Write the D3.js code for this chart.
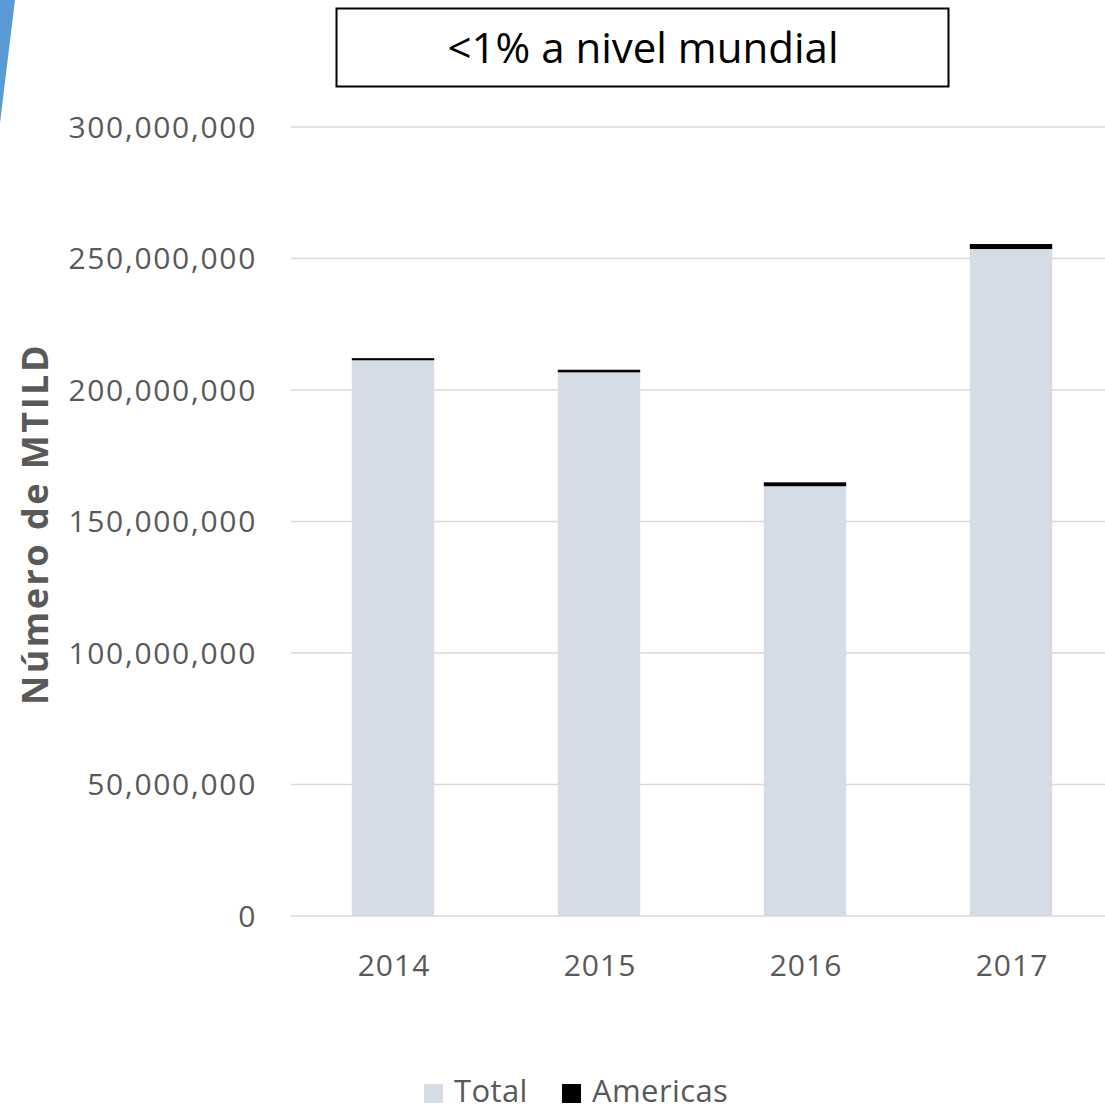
<!DOCTYPE html>
<html><head><meta charset="utf-8">
<script src="https://cdn.jsdelivr.net/npm/d3@7"></script>
<style>body{margin:0;background:#fff}svg{display:block}</style>
</head><body>
<svg id="c" width="1105" height="1111"></svg>
<script>
const categories = ["2014","2015","2016","2017"];
const totalValues = [211300000, 206700000, 163400000, 253600000];
const americasValues = [800000, 1000000, 1500000, 1900000];
const seriesNames = ["Total","Americas"];
const seriesColors = ["#d6dce5","#000000"];
const yTicks = [0,50000000,100000000,150000000,200000000,250000000,300000000];
const titleText = "<1% a nivel mundial";
const yAxisTitle = "Número de MTILD";

const svg = d3.select("#c");
const font = "'Open Sans', sans-serif";
const textColor = "#595959";

// decorative blue shape
svg.append("polygon").attr("points","0,0 15,0 0,123").attr("fill","#5b9bd5");

const x = d3.scaleBand().domain(categories).range([290,1114]).paddingInner(0.6).paddingOuter(0.3);
const y = d3.scaleLinear().domain([0,300000000]).range([916,127]);

// gridlines
svg.append("g").selectAll("line").data(yTicks).join("line")
  .attr("x1",291).attr("x2",1105)
  .attr("y1",d=>y(d)).attr("y2",d=>y(d))
  .attr("stroke","#d9d9d9").attr("stroke-width",1.5);

// y labels
const fmt = d3.format(",");
svg.append("g").selectAll("text").data(yTicks).join("text")
  .attr("x",257).attr("y",d=>y(d)).attr("dy","0.35em")
  .attr("text-anchor","end").attr("font-family",font).attr("font-size",30)
  .attr("letter-spacing",1.7)
  .attr("fill",textColor).text(d=>fmt(d));

// stacked bars
const rows = categories.map((c,i)=>({cat:c, Total:totalValues[i], Americas:americasValues[i]}));
const stack = d3.stack().keys(seriesNames)(rows);
svg.append("g").selectAll("g").data(stack).join("g")
  .attr("fill",(d,i)=>seriesColors[i])
  .selectAll("rect").data(d=>d).join("rect")
  .attr("x",d=>x(d.data.cat)).attr("width",x.bandwidth())
  .attr("y",d=>y(d[1])).attr("height",d=>y(d[0])-y(d[1]));

// x labels
svg.append("g").selectAll("text").data(categories).join("text")
  .attr("x",d=>x(d)+x.bandwidth()/2+1).attr("y",976)
  .attr("text-anchor","middle").attr("font-family",font).attr("font-size",30)
  .attr("letter-spacing",1)
  .attr("fill",textColor).text(d=>d);

// y axis title
svg.append("text").attr("transform","translate(48,524) rotate(-90)")
  .attr("text-anchor","middle").attr("font-family",font).attr("font-weight","bold")
  .attr("font-size",36).attr("letter-spacing",2.5).attr("fill",textColor).text(yAxisTitle);

// title box
svg.append("rect").attr("x",336.5).attr("y",8.5).attr("width",612).attr("height",78)
  .attr("fill","#fff").attr("stroke","#000").attr("stroke-width",2);
svg.append("text").attr("x",643).attr("y",48).attr("dy","0.35em")
  .attr("text-anchor","middle").attr("font-family",font).attr("font-size",42)
  .attr("fill","#000").text(titleText);

// legend
const legendX = [424, 562];
const lg = svg.append("g").selectAll("g").data(seriesNames).join("g")
  .attr("transform",(d,i)=>`translate(${legendX[i]},1084)`);
lg.append("rect").attr("width",19).attr("height",19).attr("fill",(d,i)=>seriesColors[i]);
lg.append("text").attr("x",30).attr("y",18)
  .attr("font-family",font).attr("font-size",31).attr("letter-spacing",0.4)
  .attr("fill",textColor).text(d=>d);
</script>
</body></html>
